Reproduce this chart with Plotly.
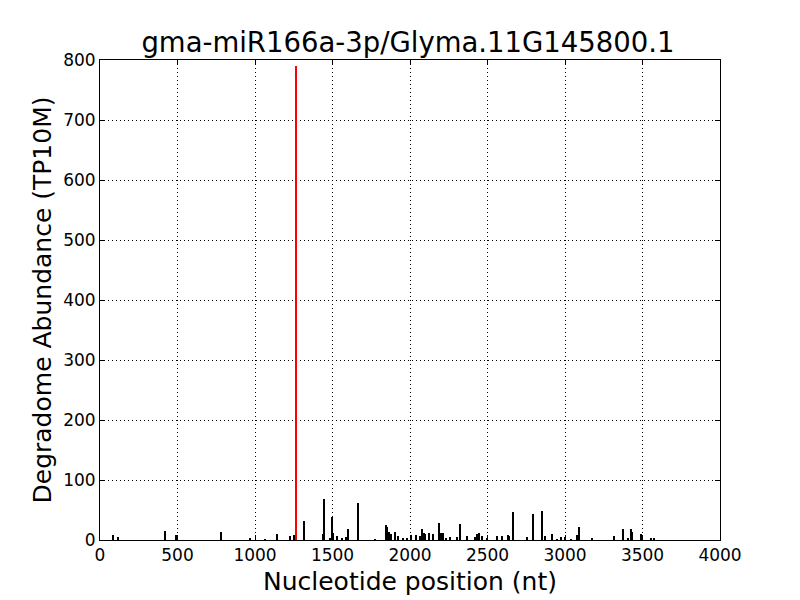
import plotly.graph_objects as go

title = "gma-miR166a-3p/Glyma.11G145800.1"
xlabel = "Nucleotide position (nt)"
ylabel = "Degradome Abundance (TP10M)"

# background degradome peaks (position nt, abundance TP10M)
pos = [86, 118, 421, 488, 492, 783, 970, 1065, 1144, 1228, 1254, 1318,
       1439, 1447, 1484, 1497, 1505, 1527, 1563, 1587, 1602, 1667, 1774,
       1848, 1853, 1862, 1875, 1905, 1925, 1957, 1978, 2004, 2039, 2067,
       2075, 2093, 2097, 2123, 2146, 2187, 2198, 2211, 2232, 2258, 2306,
       2323, 2370, 2419, 2430, 2447, 2462, 2500, 2563, 2596, 2632, 2640,
       2665, 2753, 2794, 2849, 2869, 2918, 2950, 2972, 3000, 3040, 3075,
       3088, 3176, 3318, 3376, 3408, 3426, 3432, 3492, 3497, 3555, 3576]
val = [8, 5, 15, 3, 8, 13, 4, 1, 10, 6, 8, 32,
       10, 69, 3, 39, 12, 7, 2, 5, 19, 61, 1,
       25, 22, 13, 10, 13, 7, 4, 3, 9, 8, 6,
       19, 11, 10, 11, 10, 29, 12, 11, 4, 5, 5,
       26, 7, 5, 10, 12, 6, 2, 6, 7, 9, 6,
       46, 5, 43, 49, 7, 10, 1, 5, 5, 1, 9,
       22, 4, 6, 19, 4, 19, 13, 10, 9, 2, 3]

# miRNA cleavage site
site_pos = [1265]
site_val = [790]

xticks = [0, 500, 1000, 1500, 2000, 2500, 3000, 3500, 4000]
yticks = [0, 100, 200, 300, 400, 500, 600, 700, 800]

fig = go.Figure()
fig.add_trace(go.Bar(x=pos, y=val, width=7, marker=dict(color="black", line=dict(width=0)),
                     showlegend=False))
fig.add_trace(go.Bar(x=site_pos, y=site_val, width=15, marker=dict(color="red", line=dict(width=0)),
                     showlegend=False))

font = "DejaVu Sans"
axis_common = dict(showline=True, linecolor="black", linewidth=1, mirror="allticks",
                   ticks="inside", ticklen=5, tickcolor="black",
                   showgrid=True, gridcolor="black", gridwidth=1, griddash="1px,3px",
                   zeroline=False, tickfont=dict(family=font, size=17, color="black"))

fig.update_layout(
    width=800, height=600,
    margin=dict(l=92, r=88, t=52, b=68),
    paper_bgcolor="white", plot_bgcolor="white",
    bargap=0,
    title=dict(text=title, x=0.5, xanchor="center", y=0.943, yanchor="middle",
               font=dict(family=font, size=27.5, color="black")),
    xaxis=dict(range=[0, 4000], tickvals=xticks, ticktext=[str(t) for t in xticks],
               title=dict(text=xlabel, font=dict(family=font, size=25, color="black"), standoff=8),
               **axis_common),
    yaxis=dict(range=[0, 800], tickvals=yticks, ticktext=[str(t) for t in yticks],
               title=dict(text=ylabel, font=dict(family=font, size=25, color="black"), standoff=4),
               **axis_common),
)

fig.write_html("out.html")
